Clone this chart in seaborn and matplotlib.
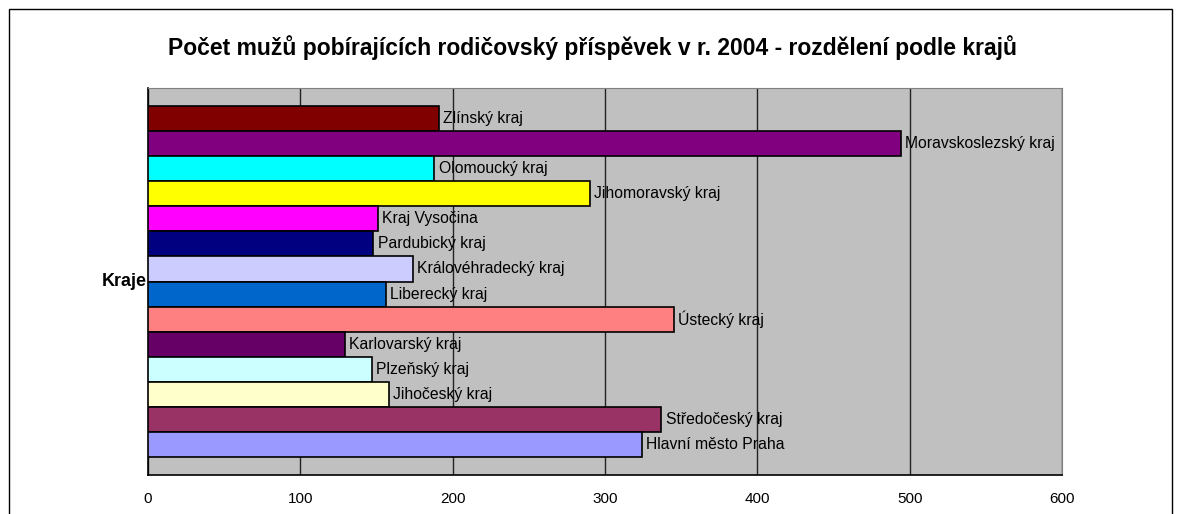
import pandas as pd
import matplotlib.pyplot as plt
import seaborn as sns
from matplotlib.patches import Rectangle

regions = ["Zlínský kraj", "Moravskoslezský kraj", "Olomoucký kraj", "Jihomoravský kraj",
           "Kraj Vysočina", "Pardubický kraj", "Královéhradecký kraj", "Liberecký kraj",
           "Ústecký kraj", "Karlovarský kraj", "Plzeňský kraj", "Jihočeský kraj",
           "Středočeský kraj", "Hlavní město Praha"]
men = [191, 494, 188, 290, 151, 148, 174, 156, 345, 129, 147, 158, 337, 324]
colors = ["#800000", "#800080", "#00FFFF", "#FFFF00", "#FF00FF", "#000080", "#CCCCFF",
          "#0066CC", "#FF8080", "#660066", "#CCFFFF", "#FFFFCC", "#993366", "#9999FF"]

data = pd.DataFrame({"kraj": regions, "pocet": men})

sns.set_style("white")
plt.rcParams["font.family"] = ["Liberation Sans", "DejaVu Sans"]
plt.rcParams["text.color"] = "black"
plt.rcParams["axes.labelcolor"] = "black"

fig = plt.figure(figsize=(11.82, 5.14), dpi=100)
ax = fig.add_axes([148 / 1182, 1 - 475 / 514, 914 / 1182, 387 / 514])
ax.set_facecolor("#C0C0C0")

sns.barplot(data=data, x="pocet", y="kraj", hue="kraj", palette=colors, legend=False,
            saturation=1, width=1.0, edgecolor="black", linewidth=1.2, ax=ax, zorder=3)

# popisky krajů hned za koncem sloupce
for i, (name, val) in enumerate(zip(regions, men)):
    ax.annotate(name, (val, i), xytext=(3, 0), textcoords="offset points",
                va="center", ha="left", fontsize=11.3, color="black", zorder=4)

ax.set_xlim(0, 600)
ax.set_ylim(13.5 + 0.7, -0.5 - 0.7)
ax.set_xticks(range(0, 601, 100))
ax.grid(axis="x", color="#222222", linewidth=1, zorder=1)
ax.set_axisbelow(True)
ax.set_yticks([])
ax.set_xlabel("")
ax.set_ylabel("Kraje", rotation=0, fontsize=13, fontweight="bold", labelpad=1, va="center", ha="right")
ax.tick_params(axis="x", length=4, direction="out", labelsize=11, pad=8, colors="black")
for s in ["top", "right"]:
    ax.spines[s].set_color("#808080")
for s in ["left", "bottom"]:
    ax.spines[s].set_color("black")
    ax.spines[s].set_linewidth(1.2)

fig.text(592 / 1182, 1 - 48 / 514, "Počet mužů pobírajících rodičovský příspěvek v r. 2004 - rozdělení podle krajů",
         ha="center", va="center", fontsize=16.5, fontweight="bold")

fig.patches.append(Rectangle((9 / 1182, -0.05), 1163 / 1182, 1.05 - 9 / 514, transform=fig.transFigure,
                             fill=False, edgecolor="black", linewidth=1))

fig.savefig("out.png", dpi=100)
